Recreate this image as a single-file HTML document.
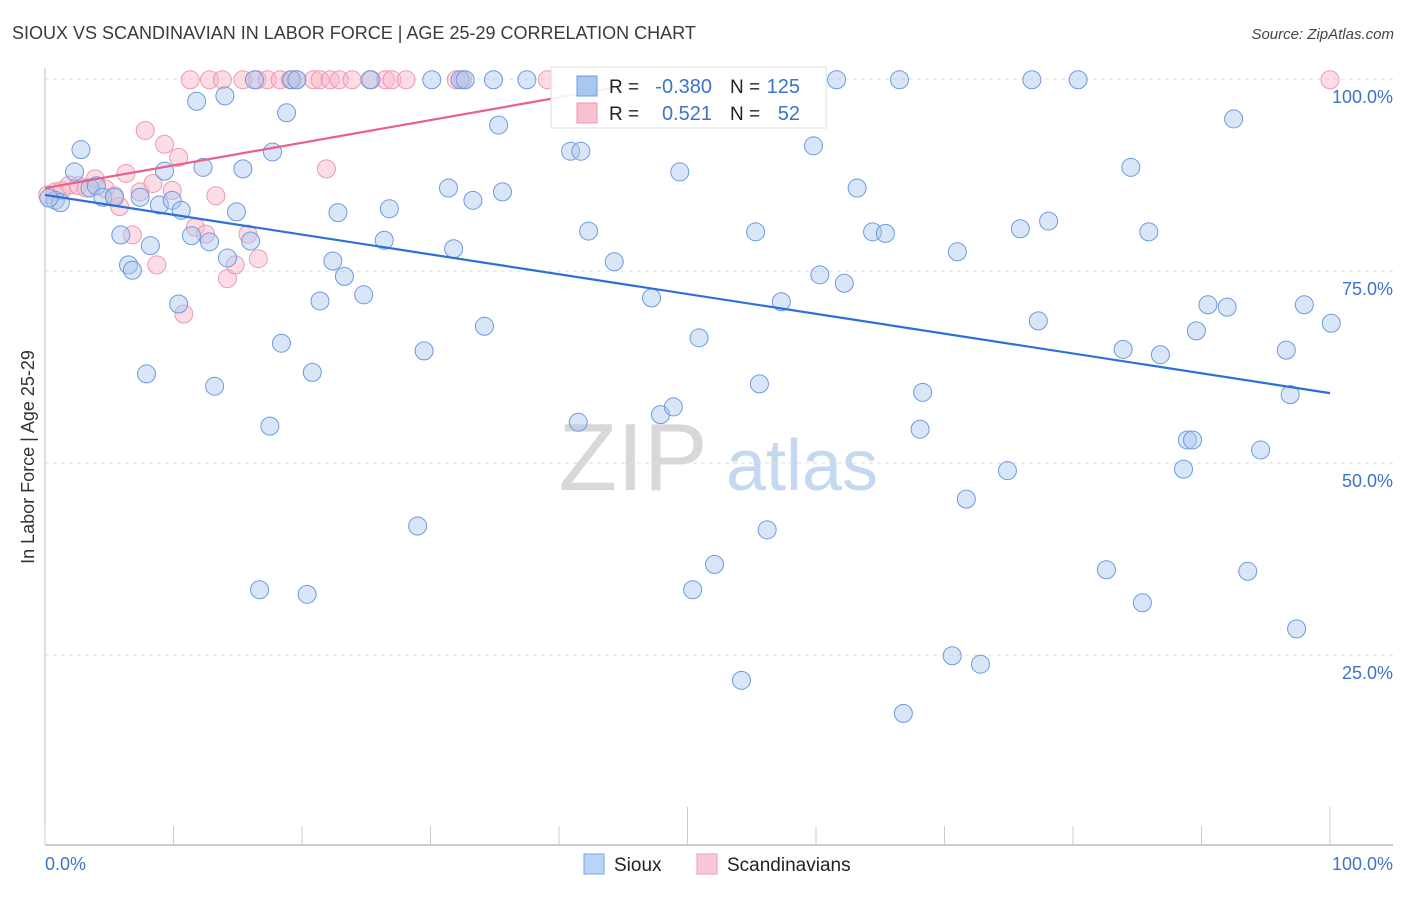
<!DOCTYPE html>
<html><head><meta charset="utf-8"><style>
body{margin:0;background:#fff;font-family:"Liberation Sans",sans-serif;}
svg text{font-family:"Liberation Sans",sans-serif;}
</style></head><body>
<svg id="chart" width="1406" height="892" xmlns="http://www.w3.org/2000/svg">
<text x="12" y="39" font-size="18" fill="#3a3a3a">SIOUX VS SCANDINAVIAN IN LABOR FORCE | AGE 25-29 CORRELATION CHART</text>
<text x="1394" y="39" font-size="15" fill="#444" text-anchor="end" font-style="italic">Source: ZipAtlas.com</text>
<g>
<text x="633" y="490" font-size="96" fill="#d8d8d8" text-anchor="middle" font-family="Liberation Serif, serif">ZIP</text>
<text x="802" y="490" font-size="72" fill="#c5d8f0" text-anchor="middle">atlas</text>
</g>
<g id="grid"></g>
<g id="axes"></g>
<g id="pts"></g>
<g id="trend"></g>
<text transform="translate(34,457) rotate(-90)" font-size="18" fill="#333" text-anchor="middle">In Labor Force | Age 25-29</text>
<g>
<rect x="551" y="67" width="275" height="61" fill="#fff" fill-opacity="0.9" stroke="#ddd"/>
<rect x="577" y="76" width="20" height="20" fill="#a8c8f0" stroke="#6b9be0"/>
<rect x="577" y="103" width="20" height="20" fill="#f8c0d0" stroke="#eb94ad"/>
<text x="609" y="93" font-size="19" fill="#222">R =</text>
<text x="712" y="93" font-size="20" fill="#3c74cc" text-anchor="end">-0.380</text>
<text x="730" y="93" font-size="19" fill="#222">N =</text>
<text x="800" y="93" font-size="20" fill="#3c74cc" text-anchor="end">125</text>
<text x="609" y="120" font-size="19" fill="#222">R =</text>
<text x="712" y="120" font-size="20" fill="#3c74cc" text-anchor="end">0.521</text>
<text x="730" y="120" font-size="19" fill="#222">N =</text>
<text x="800" y="120" font-size="20" fill="#3c74cc" text-anchor="end">52</text>
</g>
<g>
<rect x="584" y="854" width="20" height="20" fill="#b8d4f6" stroke="#7aa6e6"/>
<text x="614" y="871" font-size="19" fill="#222">Sioux</text>
<rect x="697" y="854" width="20" height="20" fill="#f9c8d6" stroke="#eb9db2"/>
<text x="727" y="871" font-size="19" fill="#222">Scandinavians</text>
</g>
</svg>
<script>
const siouxX=[0.8,1.2,2.3,2.8,3.5,4.0,4.5,5.4,5.9,6.5,6.8,7.4,7.9,8.2,8.9,9.3,9.9,10.4,10.6,11.4,11.8,12.3,12.8,13.2,14.0,14.2,14.9,15.4,16.0,16.3,16.7,17.5,17.7,18.4,18.8,19.2,19.6,20.4,20.8,21.4,22.4,22.8,23.3,24.8,25.3,26.4,26.8,29.0,29.5,30.1,31.4,31.8,32.3,32.7,33.3,34.2,34.9,35.3,35.6,37.5,40.9,41.5,41.7,42.3,44.3,47.2,47.9,48.9,49.4,50.4,50.9,52.1,54.2,55.3,55.6,56.2,57.3,59.8,60.3,61.6,62.2,63.2,64.4,65.4,66.5,66.8,68.1,68.3,70.6,71.0,71.7,72.8,74.9,75.9,76.8,77.3,78.1,80.4,82.6,83.9,84.5,85.4,85.9,86.8,88.6,88.9,89.3,89.6,90.5,92.0,92.5,93.6,94.6,96.6,96.9,97.4,98.0,100.1,0.3];
const siouxY=[84.2,83.9,87.9,90.8,85.8,86.1,84.6,84.6,79.7,75.8,75.1,84.6,61.6,78.3,83.6,88.0,84.2,70.7,82.9,79.6,97.1,88.5,78.8,60.0,97.8,76.7,82.7,88.3,78.9,99.9,33.5,54.8,90.5,65.6,95.6,99.9,99.9,32.9,61.8,71.1,76.3,82.6,74.3,71.9,99.9,79.0,83.1,41.8,64.6,99.9,85.8,77.9,99.9,99.9,84.2,67.8,99.9,94.0,85.3,99.9,90.6,55.3,90.6,80.2,76.2,71.5,56.3,57.3,87.9,33.5,66.3,36.8,21.7,80.1,60.3,41.3,71.0,91.3,74.5,99.9,73.4,85.8,80.1,79.9,99.9,17.4,54.4,59.2,24.9,77.5,45.3,23.8,49.0,80.5,99.9,68.5,81.5,99.9,36.1,64.8,88.5,31.8,80.1,64.1,49.2,53.0,53.0,67.2,70.6,70.3,94.8,35.9,51.7,64.7,58.9,28.4,70.6,68.2,84.5];
const scandX=[0.2,0.8,1.3,1.9,2.6,3.2,3.9,4.7,5.4,5.8,6.3,6.8,7.4,7.8,8.4,8.7,9.3,9.9,10.4,10.8,11.7,12.5,13.3,14.2,14.8,15.8,16.6,21.9,11.3,12.8,13.8,15.4,16.5,17.3,18.3,19.1,19.6,20.9,21.4,22.2,22.9,23.9,25.4,26.5,27.0,28.1,32.0,32.5,39.1,100.0];
const scandY=[84.9,85.3,85.5,86.2,86.1,85.8,87.0,85.7,84.8,83.4,87.7,79.7,85.3,93.3,86.4,75.8,91.5,85.5,89.8,69.4,80.7,79.8,84.8,74.0,75.8,79.8,76.6,88.3,99.9,99.9,99.9,99.9,99.9,99.9,99.9,99.9,99.9,99.9,99.9,99.9,99.9,99.9,99.9,99.9,99.9,99.9,99.9,99.9,99.9,99.9];
const yTicks=[25,50,75,100];
const yTickLabels=["25.0%","50.0%","75.0%","100.0%"];
const blueTrend=[84.9,59.1];
const pinkTrend=[85.8,0.295];
const X0=45,X1=1330,Y0=847,YS=7.68;
const sx=v=>X0+(X1-X0)*v/100, sy=v=>Y0-v*YS;
const NS="http://www.w3.org/2000/svg";
function mk(tag,attrs,parent){const e=document.createElementNS(NS,tag);for(const k in attrs)e.setAttribute(k,attrs[k]);parent.appendChild(e);return e;}
const grid=document.getElementById('grid'),axes=document.getElementById('axes'),pts=document.getElementById('pts'),trend=document.getElementById('trend');
yTicks.forEach((t,i)=>{
 const l=mk('line',{x1:45,x2:1393,y1:sy(t),y2:sy(t),stroke:'#ddd','stroke-dasharray':'4,4'},grid);
 
 
 const tx=mk('text',{x:1393,y:sy(t)+24,'font-size':18,fill:'#3c74cc','text-anchor':'end'},grid);
 tx.textContent=yTickLabels[i];
 
 
});
let a=mk('line',{x1:45,x2:45,y1:68,y2:845,stroke:'#bbb'},axes);


a=mk('line',{x1:45,x2:1393,y1:845,y2:845,stroke:'#bbb','stroke-width':1.5},axes);


for(let i=0;i<=10;i++){
 const x=sx(i*10);
 const t=mk('line',{x1:x,x2:x,y1:(i==5||i==10)?807:826,y2:845,stroke:'#ccc'},axes);
 
 
}
let xl=mk('text',{x:45,y:870,'font-size':18,fill:'#3c74cc'},axes);xl.textContent='0.0%';


xl=mk('text',{x:1393,y:870,'font-size':18,fill:'#3c74cc','text-anchor':'end'},axes);xl.textContent='100.0%';


scandX.forEach((v,i)=>{
 const c=mk('circle',{cx:sx(v),cy:sy(scandY[i]),r:9,fill:'#f8b4c8','fill-opacity':0.45,stroke:'#ec9ab2','stroke-width':1},pts);
 
 
});
siouxX.forEach((v,i)=>{
 const c=mk('circle',{cx:sx(v),cy:sy(siouxY[i]),r:9,fill:'#a8c8f0','fill-opacity':0.45,stroke:'#6b9be0','stroke-width':1},pts);
 
 
});
let bt=mk('line',{x1:sx(0),y1:sy(blueTrend[0]),x2:sx(100),y2:sy(blueTrend[1]),stroke:'#2c6fd8','stroke-width':2.2},trend);


let pt=mk('line',{x1:sx(0),y1:sy(pinkTrend[0]),x2:sx(44),y2:sy(pinkTrend[0]+pinkTrend[1]*44),stroke:'#e8608c','stroke-width':2.2},trend);


</script>
</body></html>
